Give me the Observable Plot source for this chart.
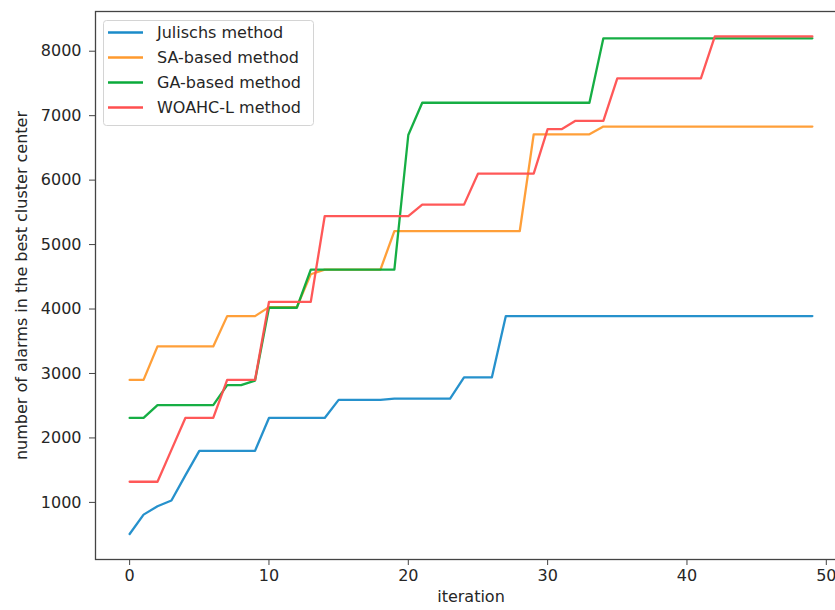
<!DOCTYPE html>
<html>
<head>
<meta charset="utf-8">
<script src="https://cdn.jsdelivr.net/npm/d3@7"></script>
<script src="https://cdn.jsdelivr.net/npm/@observablehq/plot@0.6"></script>
<style>
  html, body { margin: 0; padding: 0; background: #fff; overflow: hidden; }
  #chart { position: relative; width: 835px; height: 610px; overflow: hidden; }
</style>
</head>
<body>
<div id="chart"></div>
<script>
const iterations = d3.range(0, 50);
const seriesNames = ["Julischs method", "SA-based method", "GA-based method", "WOAHC-L method"];
const seriesColors = ["#1a8bc9", "#ff9a2e", "#0aaa3a", "#ff4f4f"];

const julischs = [510, 810, 940, 1030, 1420, 1800, 1800, 1800, 1800, 1800,
  2310, 2310, 2310, 2310, 2310, 2590, 2590, 2590, 2590, 2610,
  2610, 2610, 2610, 2610, 2940, 2940, 2940, 3890, 3890, 3890,
  3890, 3890, 3890, 3890, 3890, 3890, 3890, 3890, 3890, 3890,
  3890, 3890, 3890, 3890, 3890, 3890, 3890, 3890, 3890, 3890];
const saBased = [2900, 2900, 3420, 3420, 3420, 3420, 3420, 3890, 3890, 3890,
  4030, 4030, 4030, 4540, 4610, 4610, 4610, 4610, 4610, 5210,
  5210, 5210, 5210, 5210, 5210, 5210, 5210, 5210, 5210, 6710,
  6710, 6710, 6710, 6710, 6830, 6830, 6830, 6830, 6830, 6830,
  6830, 6830, 6830, 6830, 6830, 6830, 6830, 6830, 6830, 6830];
const gaBased = [2310, 2310, 2510, 2510, 2510, 2510, 2510, 2820, 2820, 2890,
  4020, 4020, 4020, 4610, 4610, 4610, 4610, 4610, 4610, 4610,
  6700, 7200, 7200, 7200, 7200, 7200, 7200, 7200, 7200, 7200,
  7200, 7200, 7200, 7200, 8200, 8200, 8200, 8200, 8200, 8200,
  8200, 8200, 8200, 8200, 8200, 8200, 8200, 8200, 8200, 8200];
const woahcL = [1320, 1320, 1320, 1815, 2310, 2310, 2310, 2900, 2900, 2900,
  4110, 4110, 4110, 4110, 5440, 5440, 5440, 5440, 5440, 5440,
  5440, 5620, 5620, 5620, 5620, 6100, 6100, 6100, 6100, 6100,
  6790, 6790, 6920, 6920, 6920, 7580, 7580, 7580, 7580, 7580,
  7580, 7580, 8230, 8230, 8230, 8230, 8230, 8230, 8230, 8230];

const xTicks = [0, 10, 20, 30, 40, 50];
const yTicks = [1000, 2000, 3000, 4000, 5000, 6000, 7000, 8000];

const allSeries = [julischs, saBased, gaBased, woahcL];
const data = [];
allSeries.forEach((vals, i) => {
  vals.forEach((v, j) => data.push({series: seriesNames[i], iteration: iterations[j], value: v}));
});

const font = "DejaVu Sans, sans-serif";

const plot = Plot.plot({
  width: 847,
  height: 610,
  marginLeft: 95,
  marginRight: 1,
  marginTop: 11,
  marginBottom: 51,
  style: {fontFamily: font, fontSize: "16px", background: "white", maxWidth: "none", overflow: "hidden", color: "#262626"},
  x: {domain: [-2.45, 51.45]},
  y: {domain: [114, 8616]},
  color: {domain: seriesNames, range: seriesColors},
  marks: [
    Plot.line(data, {x: "iteration", y: "value", z: "series", stroke: "series", strokeWidth: 2.3, strokeOpacity: 0.95, curve: "linear"}),
    Plot.axisX({ticks: xTicks, tickSize: 6, tickPadding: 4, fontSize: 16, label: null, stroke: "#444"}),
    Plot.axisY({ticks: yTicks, tickSize: 6, tickPadding: 8, fontSize: 16, label: null, tickFormat: d => String(d), stroke: "#444"}),
    Plot.frame({stroke: "#444", strokeWidth: 1.3}),
    Plot.text(["iteration"], {frameAnchor: "bottom", dy: 42, fontSize: 16, fill: "#262626", textAnchor: "middle"}),
    Plot.text(["number of alarms in the best cluster center"], {frameAnchor: "left", dx: -74, rotate: -90, fontSize: 16, fill: "#262626", textAnchor: "middle"})
  ]
});

document.getElementById("chart").appendChild(plot);

// Legend (upper left, matplotlib style)
const svg = d3.select(plot);
const lg = svg.append("g").attr("font-family", font).attr("font-size", 16).attr("text-anchor", "start");
lg.append("rect").attr("x", 103.5).attr("y", 20.5).attr("width", 210).attr("height", 105)
  .attr("rx", 3).attr("fill", "white").attr("fill-opacity", 0.85).attr("stroke", "#d4d4d4");
seriesNames.forEach((name, i) => {
  const cy = 32.5 + i * 25;
  lg.append("line").attr("x1", 108).attr("x2", 143).attr("y1", cy).attr("y2", cy)
    .attr("stroke", seriesColors[i]).attr("stroke-width", 2.3);
  lg.append("text").attr("x", 157).attr("y", cy).attr("dy", "0.35em").attr("fill", "#262626")
    .attr("text-anchor", "start").text(name);
});
</script>
</body>
</html>
